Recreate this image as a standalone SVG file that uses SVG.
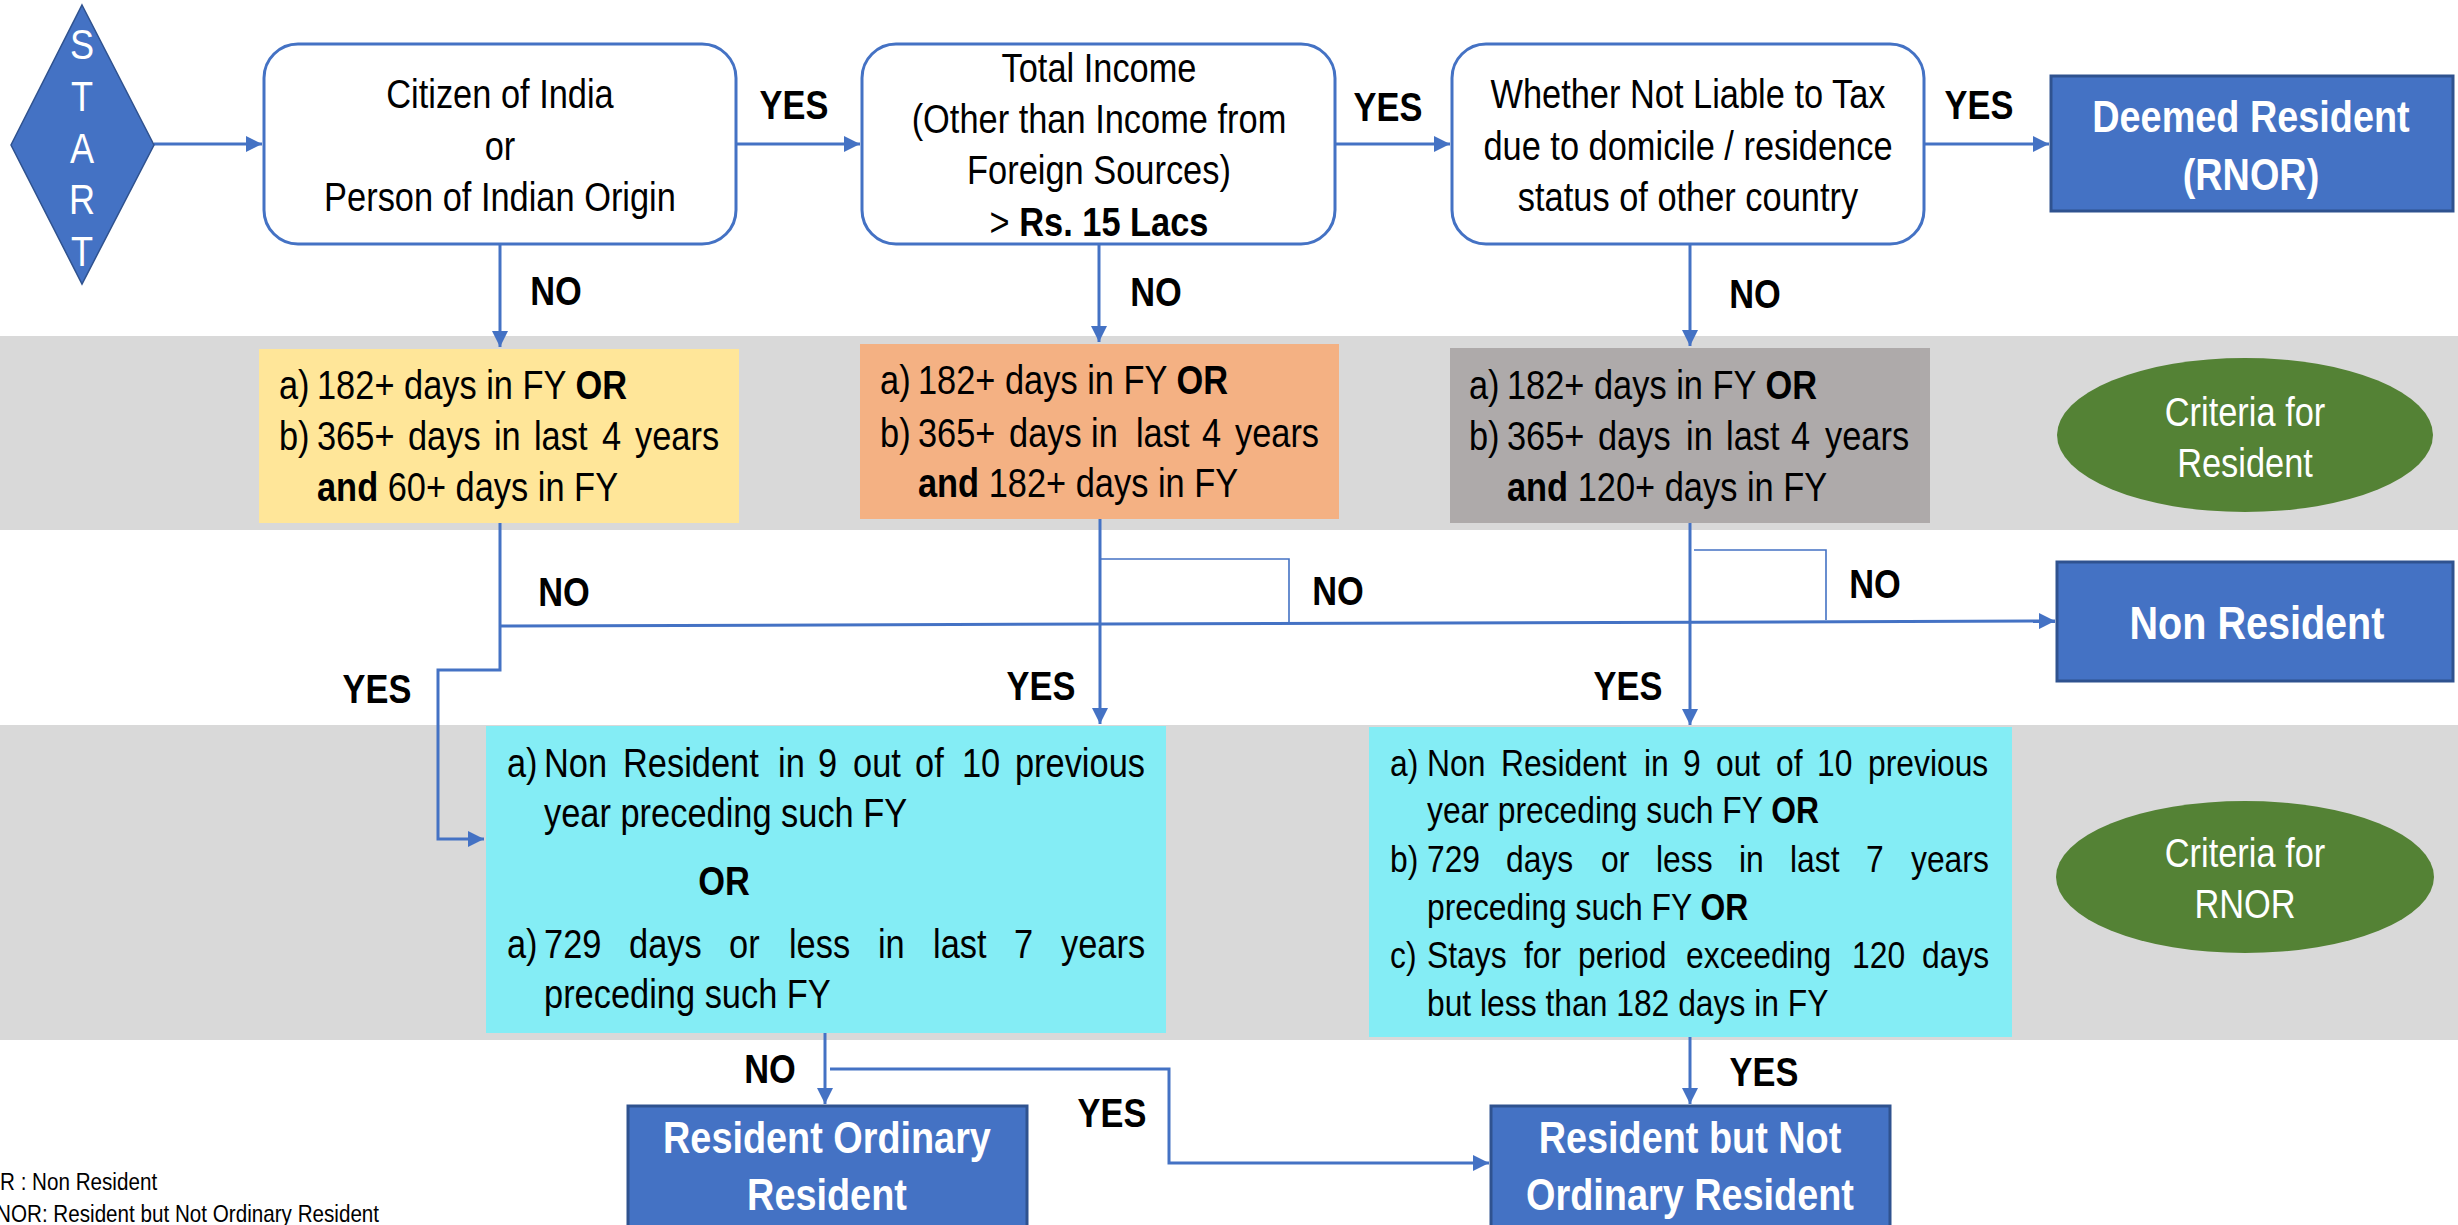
<svg xmlns="http://www.w3.org/2000/svg" width="2458" height="1225" viewBox="0 0 2458 1225">
<defs>
<style>
.t{font-family:"Liberation Sans",Arial,sans-serif;font-size:40px;fill:#000}
.s{font-size:37px}
.big{font-size:44px}
.b{font-weight:bold}
.w{fill:#fff}
.c{text-anchor:middle}
.ln{fill:none;stroke:#4472C4;stroke-width:3}
.thin{fill:none;stroke:#4472C4;stroke-width:1.6}
.dec{fill:#fff;stroke:#4472C4;stroke-width:3}
.res{fill:#4472C4;stroke:#2F528F;stroke-width:3}
.band{fill:#D9D9D9}
.oval{fill:#548235}
</style>
<marker id="ah" viewBox="0 0 10 10" refX="10" refY="5" markerWidth="16" markerHeight="16" markerUnits="userSpaceOnUse" orient="auto">
<path d="M0,0 L10,5 L0,10 z" fill="#4472C4"/>
</marker>
</defs>
<rect width="2458" height="1225" fill="#fff"/>
<rect class="band" x="0" y="336" width="2458" height="194"/>
<rect class="band" x="0" y="725" width="2458" height="315"/>

<g id="connectors">
<path class="ln" d="M154,144 H262" marker-end="url(#ah)"/>
<path class="ln" d="M736,144 H860" marker-end="url(#ah)"/>
<path class="ln" d="M1335,144 H1450" marker-end="url(#ah)"/>
<path class="ln" d="M1924,144 H2049" marker-end="url(#ah)"/>
<path class="ln" d="M500,244 V347" marker-end="url(#ah)"/>
<path class="ln" d="M1099,244 V342" marker-end="url(#ah)"/>
<path class="ln" d="M1690,244 V346" marker-end="url(#ah)"/>
<path class="ln" d="M500,523 V670 H438 V839 H484" marker-end="url(#ah)"/>
<path class="ln" d="M500,626 L2055,621" marker-end="url(#ah)"/>
<path class="ln" d="M1100,519 V724" marker-end="url(#ah)"/>
<path class="thin" d="M1100,559 H1289 V623"/>
<path class="ln" d="M1690,523 V725" marker-end="url(#ah)"/>
<path class="thin" d="M1694,550 H1826 V620"/>
<path class="ln" d="M825,1033 V1104" marker-end="url(#ah)"/>
<path class="ln" d="M830,1069 H1169 V1163 H1489" marker-end="url(#ah)"/>
<path class="ln" d="M1690,1037 V1104" marker-end="url(#ah)"/>
</g>

<g id="labels" transform="scale(0.86,1)">
<text class="t b c" x="923.3" y="119">YES</text>
<text class="t b c" x="1614" y="121">YES</text>
<text class="t b c" x="2301.2" y="119">YES</text>
<text class="t b c" x="646.5" y="305">NO</text>
<text class="t b c" x="1344.2" y="306">NO</text>
<text class="t b c" x="2040.7" y="308">NO</text>
<text class="t b c" x="655.8" y="606">NO</text>
<text class="t b c" x="1555.8" y="605">NO</text>
<text class="t b c" x="2180.2" y="598">NO</text>
<text class="t b c" x="438.4" y="703">YES</text>
<text class="t b c" x="1210.5" y="700">YES</text>
<text class="t b c" x="1893" y="700">YES</text>
<text class="t b c" x="895.3" y="1083">NO</text>
<text class="t b c" x="1293" y="1127">YES</text>
<text class="t b c" x="2051.2" y="1086">YES</text>
</g>

<g id="start">
<path d="M82,5 L154,145 L82,284 L11,145 z" fill="#4472C4" stroke="#2F528F" stroke-width="1.5"/>
<g transform="scale(0.86,1)">
<text class="t w c" x="95.3" y="59" style="font-size:42px">S</text>
<text class="t w c" x="95.3" y="111" style="font-size:42px">T</text>
<text class="t w c" x="95.3" y="163" style="font-size:42px">A</text>
<text class="t w c" x="95.3" y="214" style="font-size:42px">R</text>
<text class="t w c" x="95.3" y="266" style="font-size:42px">T</text>
</g>
</g>

<g id="citizen">
<rect class="dec" x="264" y="44" width="472" height="200" rx="34"/>
<g transform="scale(0.86,1)">
<text class="t c" x="581.4" y="108">Citizen of India</text>
<text class="t c" x="581.4" y="160">or</text>
<text class="t c" x="581.4" y="211">Person of Indian Origin</text>
</g>
</g>

<g id="income">
<rect class="dec" x="862" y="44" width="473" height="200" rx="34"/>
<g transform="scale(0.86,1)">
<text class="t c" x="1277.9" y="82">Total Income</text>
<text class="t c" x="1277.9" y="133">(Other than Income from</text>
<text class="t c" x="1277.9" y="184">Foreign Sources)</text>
<text class="t c" x="1277.9" y="236">&gt; <tspan class="b">Rs. 15 Lacs</tspan></text>
</g>
</g>

<g id="liable">
<rect class="dec" x="1452" y="44" width="472" height="200" rx="34"/>
<g transform="scale(0.86,1)">
<text class="t c" x="1962.8" y="108">Whether Not Liable to Tax</text>
<text class="t c" x="1962.8" y="160">due to domicile / residence</text>
<text class="t c" x="1962.8" y="211">status of other country</text>
</g>
</g>

<g id="deemed">
<rect class="res" x="2051" y="76" width="402" height="135"/>
<g transform="scale(0.86,1)">
<text class="t big b w c" x="2617.4" y="132">Deemed Resident</text>
<text class="t big b w c" x="2617.4" y="190">(RNOR)</text>
</g>
</g>

<g id="crit-yellow">
<rect x="259" y="349" width="480" height="174" fill="#FFE699"/>
<g transform="scale(0.86,1)">
<text class="t" x="324.4" y="399">a)</text>
<text class="t" x="368.6" y="399">182+ days in FY <tspan class="b">OR</tspan></text>
<text class="t" x="324.4" y="450">b)</text>
<text class="t" y="450"><tspan x="368.6">365+</tspan><tspan x="474.4">days</tspan><tspan x="574.4">in</tspan><tspan x="620.9">last</tspan><tspan x="700">4</tspan><tspan x="738.4">years</tspan></text>
<text class="t" x="368.6" y="501"><tspan class="b">and</tspan> 60+ days in FY</text>
</g>
</g>

<g id="crit-orange">
<rect x="860" y="344" width="479" height="175" fill="#F4B183"/>
<g transform="scale(0.86,1)">
<text class="t" x="1023.3" y="394">a)</text>
<text class="t" x="1067.4" y="394">182+ days in FY <tspan class="b">OR</tspan></text>
<text class="t" x="1023.3" y="447">b)</text>
<text class="t" y="447"><tspan x="1067.4">365+</tspan><tspan x="1173.3">days</tspan><tspan x="1268.6">in</tspan><tspan x="1320.9">last</tspan><tspan x="1397.7">4</tspan><tspan x="1436">years</tspan></text>
<text class="t" x="1067.4" y="497"><tspan class="b">and</tspan> 182+ days in FY</text>
</g>
</g>

<g id="crit-gray">
<rect x="1450" y="348" width="480" height="175" fill="#AEAAAA"/>
<g transform="scale(0.86,1)">
<text class="t" x="1708.1" y="399">a)</text>
<text class="t" x="1752.3" y="399">182+ days in FY <tspan class="b">OR</tspan></text>
<text class="t" x="1708.1" y="450">b)</text>
<text class="t" y="450"><tspan x="1752.3">365+</tspan><tspan x="1858.1">days</tspan><tspan x="1960.5">in</tspan><tspan x="2007">last</tspan><tspan x="2082.6">4</tspan><tspan x="2122.1">years</tspan></text>
<text class="t" x="1752.3" y="501"><tspan class="b">and</tspan> 120+ days in FY</text>
</g>
</g>

<g id="oval-resident">
<ellipse class="oval" cx="2245" cy="435" rx="188" ry="77"/>
<g transform="scale(0.86,1)">
<text class="t w c" x="2610.5" y="426">Criteria for</text>
<text class="t w c" x="2610.5" y="477">Resident</text>
</g>
</g>

<g id="non-resident">
<rect class="res" x="2057" y="562" width="396" height="119"/>
<g transform="scale(0.86,1)">
<text class="t b w c" x="2624.4" y="639" style="font-size:46px">Non Resident</text>
</g>
</g>

<g id="rnor-criteria-1">
<rect x="486" y="726" width="680" height="307" fill="#84EDF5"/>
<g transform="scale(0.86,1)">
<text class="t" x="589.5" y="777">a)</text>
<text class="t" y="777"><tspan x="632.6">Non</tspan><tspan x="724.4">Resident</tspan><tspan x="904.7">in</tspan><tspan x="951.2">9</tspan><tspan x="991.9">out</tspan><tspan x="1064">of</tspan><tspan x="1118.6">10</tspan><tspan x="1180.2">previous</tspan></text>
<text class="t" x="632.6" y="827">year preceding such FY</text>
<text class="t b c" x="841.9" y="895">OR</text>
<text class="t" x="589.5" y="958">a)</text>
<text class="t" y="958"><tspan x="632.6">729</tspan><tspan x="731.4">days</tspan><tspan x="847.7">or</tspan><tspan x="917.4">less</tspan><tspan x="1020.9">in</tspan><tspan x="1084.9">last</tspan><tspan x="1179.1">7</tspan><tspan x="1233.7">years</tspan></text>
<text class="t" x="632.6" y="1008">preceding such FY</text>
</g>
</g>

<g id="rnor-criteria-2">
<rect x="1369" y="727" width="643" height="310" fill="#84EDF5"/>
<g transform="scale(0.86,1)">
<text class="t s" x="1616.3" y="776">a)</text>
<text class="t s" y="776"><tspan x="1659.3">Non</tspan><tspan x="1745.3">Resident</tspan><tspan x="1911.6">in</tspan><tspan x="1957">9</tspan><tspan x="1995.3">out</tspan><tspan x="2065.1">of</tspan><tspan x="2112.8">10</tspan><tspan x="2172.1">previous</tspan></text>
<text class="t s" x="1659.3" y="823">year preceding such FY <tspan class="b">OR</tspan></text>
<text class="t s" x="1616.3" y="872">b)</text>
<text class="t s" y="872"><tspan x="1659.3">729</tspan><tspan x="1751.2">days</tspan><tspan x="1861.6">or</tspan><tspan x="1925.6">less</tspan><tspan x="2022.1">in</tspan><tspan x="2081.4">last</tspan><tspan x="2169.8">7</tspan><tspan x="2222.1">years</tspan></text>
<text class="t s" x="1659.3" y="920">preceding such FY <tspan class="b">OR</tspan></text>
<text class="t s" x="1616.3" y="968">c)</text>
<text class="t s" y="968"><tspan x="1659.3">Stays</tspan><tspan x="1772.1">for</tspan><tspan x="1834.9">period</tspan><tspan x="1960.5">exceeding</tspan><tspan x="2153.5">120</tspan><tspan x="2234.9">days</tspan></text>
<text class="t s" x="1659.3" y="1016">but less than 182 days in FY</text>
</g>
</g>

<g id="oval-rnor">
<ellipse class="oval" cx="2245" cy="877" rx="189" ry="76"/>
<g transform="scale(0.86,1)">
<text class="t w c" x="2610.5" y="867">Criteria for</text>
<text class="t w c" x="2610.5" y="918">RNOR</text>
</g>
</g>

<g id="resident-ordinary">
<rect class="res" x="628" y="1106" width="399" height="130"/>
<g transform="scale(0.86,1)">
<text class="t big b w c" x="961.6" y="1153">Resident Ordinary</text>
<text class="t big b w c" x="961.6" y="1210">Resident</text>
</g>
</g>

<g id="rnor">
<rect class="res" x="1491" y="1106" width="399" height="130"/>
<g transform="scale(0.86,1)">
<text class="t big b w c" x="1965.1" y="1153">Resident but Not</text>
<text class="t big b w c" x="1965.1" y="1210">Ordinary Resident</text>
</g>
</g>

<g id="legend" transform="scale(0.86,1)">
<text class="t" x="0" y="1190" style="font-size:24px">R : Non Resident</text>
<text class="t" x="-4.6" y="1222" style="font-size:24px">NOR: Resident but Not Ordinary Resident</text>
</g>
</svg>
